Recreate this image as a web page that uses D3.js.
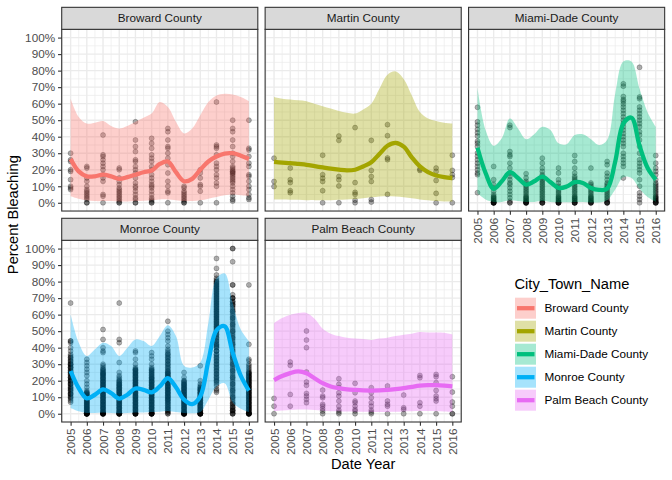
<!DOCTYPE html>
<html><head><meta charset="utf-8">
<script src="https://cdn.jsdelivr.net/npm/d3@7"></script>
<style>
body{margin:0;background:#fff}
svg{display:block}
text{font-family:"Liberation Sans",Arial,Helvetica,sans-serif}
</style>
</head><body>
<svg id="chart" width="672" height="480"></svg>
<script>
// ---------------- DATA ----------------
const counties = ["Broward County","Martin County","Miami-Dade County","Monroe County","Palm Beach County"];
const countyColors = ["#F8766D","#A3A500","#00BF7D","#00B0F6","#E76BF3"];
const years = [2005,2006,2007,2008,2009,2010,2011,2012,2013,2014,2015,2016];
const yTicks = [0,0.1,0.2,0.3,0.4,0.5,0.6,0.7,0.8,0.9,1];
const fitYears = [2005,2005.5,2006,2006.5,2007,2007.5,2008,2008.5,2009,2009.5,2010,2010.5,2011,2011.5,2012,2012.5,2013,2013.5,2014,2014.5,2015,2015.5,2016];

// observed percent bleaching (percent), one list per year 2005..2016
const browardPoints = [
  [30,26,25,20,19,14,10,9,8],
  [22,21,15,13,10,8,7,6,5,4,3,2,0,0],
  [41,29,28,26,24,22,20,17,15,13,5,4,0],
  [21,20,15,13,11,9,8,7,6,5,4,3,2,1,0,0],
  [49,38,34,31,26,25,22,20,18,15,12,10,9,7,5,3,2,0,0],
  [39,36,33,29,27,25,22,20,17,15,13,11,10,9,7,5,3,2,1,0,0],
  [45,43,38,34,33,30,27,23,18,13,10,7,6,0],
  [10,9,7,6,5,4,3,2,1,0,0],
  [20,18,15,11,10,7,0],
  [61,35,34,33,29,24,22,20,17,15,12,10,0],
  [50,45,43,38,34,30,28,25,22,21,20,19,19,18,18,17,16,15,14,13,12,10,8,6,4,2,1],
  [50,33,32,28,24,22,17,16,13,10,8,5,3,2]
];
const martinPoints = [
  [27,12.9,9.8],
  [21,13.9,12.2,7.3,6.1],
  [],
  [28.8,17,14.9,12.9,7.3,0],
  [40.4,37.8,15.9,13.9,10.2,0],
  [45.5,12.2,6.3,5.1,1.6,0],
  [37.8,19.6,15.9,12.9,2,0.4],
  [47.3,40.6,27.1,26.1,5.1],
  [],
  [20.4,19.6],
  [21,19,13.5,5.7,0],
  [28.8,19.6,17,15.3,0]
];
const miamiPoints = [
  [57.8,49,47,44.5,42.4,40.4,37.3,36,34,30.2,28.2,26,24,22,20,18,17,6.1],
  [22,14,11,9,7,5,4,3.5,3,2.5,2,1.5,1,0.5,0,0,0,0,0,0],
  [47,45.5,31,29,28,24,21,18,16,14,12,11,9,7,5,3,1,0,0],
  [17.6,15,13,12,11,10,9,8,7,6,5,4,3.5,3,2.5,2,1.5,1,0.5,0,0,0,0,0],
  [27,24,21,19,17,16,15,14,13,12,11,10,9,8,7,6,5,4,3,2,1,0,0,0,0],
  [21,18,14,12,10,9,8,7,6,5,4,3.5,3,2.5,2,1.5,1,0.5,0,0,0,0,0],
  [28.6,25,21,18,16,15,14,13,12,11,10,9,8,7,6,5,4,3.5,3,2.5,2,1.5,1,0,0,0,0,0],
  [21,12,11,10,9,8,7,6,5,4,3.5,3,2.5,2,1.5,1,0.5,0,0,0,0],
  [25,23,18,16,14,12,11,10,9,8,7,6,5,4,3,2,1,0,0,0,0],
  [72,70.6,64.3,62.5,61.5,59.8,58,56,54,52,50,48,46,44,42,40,38,36,34,30,28,26,24,22,15],
  [82,64,63,58,56,54,52,50,48,46,43,41,38,34,30,26,24,22,20,18,14,10,6,4,2,0],
  [28.6,24,21,19,17,14,12,11,10,9,8,7,6,5,4,3.5,3,2.5,2,1.5,1,0.5,0,0,0,0]
];
const monroePoints = [
  [67,44,44,43,40,38,36,35,34,33,32,31,30,30,29,28,28,27,26,25,25,24,23,22,22,21,20,20,19,18,18,17,16,15,15,14,13,12,12,11,10,9,8,7],
  [33,31,29,27,25,23,20,18,16,14,13,12.5,12,11.5,11,10.5,10,9.5,9,8.5,8,7.5,7,6.5,6,5.5,5,4.5,4,3.5,3,2.5,2,1.5,1,0.5,0,0,0,0,0,0],
  [51,45,40,38,37,30,29,28,27,26,25,24.5,24,23.5,23,22,21.5,21,20,19.5,19,18,17.5,17,16,15.5,15,14,13.5,13,12,11.5,11,10,9.5,9,8,7.5,7,6,5.5,5,4,3.5,3,2,1.5,1,0.5,0,0,0,0,0],
  [67,45,43,31,25,23,22,21,20,19,18,17.5,17,16,15.5,15,14,13.5,13,12,11.5,11,10,9.5,9,8,7.5,7,6,5.5,5,4,3.5,3,2,1.5,1,0.5,0,0,0,0,0],
  [38,37,33,30,28,27,26.5,26,25,24.5,24,23,22.5,22,21,20.5,20,19,18.5,18,17,16.5,16,15,14.5,14,13,12.5,12,11,10.5,10,9,8.5,8,7,6.5,6,5,4.5,4,3,2.5,2,1,0.5,0,0,0,0],
  [37,35,33,30,28,27,26,25,24,23,22,21.5,21,20,19.5,19,18,17.5,17,16,15.5,15,14,13.5,13,12,11.5,11,10,9.5,9,8,7.5,7,6,5.5,5,4,3.5,3,2,1.5,1,0.5,0,0,0,0,0],
  [56,50,48,46,44,41,39,38,37,36,35,34,33,32,31,30,29,28,27,26,25,24.5,24,23,22.5,22,21,20.5,20,19,18.5,18,17,16.5,16,15,14.5,14,13,12.5,12,11,10.5,10,9,8.5,8,7,6,5,4,3,2,1,0],
  [25,22,20,19,18,17.5,17,16,15.5,15,14,13.5,13,12,11.5,11,10,9.5,9,8,7.5,7,6,5.5,5,4,3.5,3,2,1.5,1,0.5,0,0,0,0,0,0],
  [29,20,18,17,16,15,14.5,14,13,12.5,12,11,10.5,10,9,8.5,8,7,6.5,6,5,4.5,4,3,2.5,2,1,0.5,0,0,0,0,0],
  [94,88,84,82,81,80,79,79,78,77,77,76,75,75,74,73,73,72,71,71,70,69,69,68,67,67,66,65,65,64,63,63,62,61,61,60,59,59,58,57,57,56,55,55,54,53,53,52,51,51,50,49,48,47,46,45,44,43,42,41,41,40,38,38,36,35,34,33,32,31,30,29,28,27,26,25,24,23,22,21,20,19,18,17,15,14,13],
  [100,100,92,78,78,72,70,70,68,67,66,65,63,62,61,59,58,57,55,54,53,51,50,49,47,46,45,43,42,41,39,38,37,35,34,33,31,30,29,27,26,25,23,22,21,19,18,17,15,14,13,11,10,9,7,6,5,4,3,2,2,1,0,0],
  [78,42,33,32,30,29,28,27,26,25,24.5,24,23,22.5,22,21,20.5,20,19,18.5,18,17,16.5,16,15,14.5,14,13,12.5,12,11,10.5,10,9,8.5,8,7,6.5,6,5,4.5,4,3,2.5,2,1,0.5,0,0,0,0,0]
];
// further Monroe survey sites packed in the dark part of each column
const monroeMorePoints = [
  [34,32,30,28,26,24,22,20,18,16,14,12,10],
  [13,12,11,10,9,8,7,6,5,4,3,2,1,0,0,0],
  [27,26,25,24,23,22,21,20,19,18,17,16,15,14,13,12,11,10,9,8,7,6,5,4,3,2,1,0,0],
  [20,19,18,17,16,15,14,13,12,11,10,9,8,7,6,5,4,3,2,1,0,0],
  [27,26,25,24,23,22,21,20,19,18,17,16,15,14,13,12,11,10,9,8,7,6,5,4,3,2,1,0,0],
  [27,26,25,24,23,22,21,20,19,18,17,16,15,14,13,12,11,10,9,8,7,6,5,4,3,2,1,0,0],
  [36,34,32,30,28,26,25,24,23,22,21,20,19,18,17,16,15,14,13,12,11,10,9,8,7,6,5,4,3,2,1,0],
  [20,19,18,17,16,15,14,13,12,11,10,9,8,7,6,5,4,3,2,1,0,0],
  [16,15,14,13,12,11,10,9,8,7,6,5,4,3,2,1,0,0],
  [80,78,76,74,72,70,68,66,64,62,60,58,56,54,52,50,48,46,44,42,40,38,36,34,32,30,28,26,24,22,20],
  [70,68,66,64,62,60,58,56,54,52,50,48,46,44,42,40,38,36,34,32,30,28,26,24,22,20,18,16,14,12,10,8,6,4,2,0],
  [25,24,23,22,21,20,19,18,17,16,15,14,13,12,11,10,9,8,7,6,5,4,3,2,1,0,0]
];
const palmPoints = [
  [9.3,4.6,0],
  [31.3,29.3,11.7,4.6],
  [50.1,44.6,40,25.3,19.2,17.2,12.3,10.7,8.7,6.7],
  [14.3,10.7,9.7,5.7,4.6,3,1.6,0],
  [21.2,17.8,15.8,12.7,10.7,7.7,4.6,2.2,1,0],
  [18.4,12.7,7.7,6.7,4.6,2.6,1.6,0],
  [15.8,12.7,9.7,6.7,4.6,2.2,1,0],
  [16.8,7.7,5.7,4.6,0],
  [11.3,3.6,2.6,0],
  [23.2,21.8,6.7,4.6,0],
  [23.8,22.4,18.8,14.1,10.7,9.1,7.7,0],
  [22.4,13.1,7.1,4.6,0,0]
];

// loess fit and confidence band (percent) at fitYears
const browardFit   = [26.5,19,16,16,17,16,14.5,15.5,17,18.5,19.5,23.5,25,18.5,13,14.5,20,25,28,29.8,30,28.5,26.5];
const browardLower = [4,2.5,1.5,1,1,1,0.8,0.8,1,1.2,1.5,2,2,1.5,1,1,1.5,2.5,3.5,4.5,5,4.5,4];
const browardUpper = [63,52,48,48.5,49.5,46.5,45,46.5,49,51.5,54,61,58,49,42,45,53,61,65,66,65.5,64,61.5];

const martinFit   = [24.7,24.3,24,23.5,23,22.2,21.4,20.6,20,19.6,20,22,24.5,29.5,34.5,36.3,34,27.5,22,18.5,16.5,15.5,15];
const martinLower = [2,2,1.9,1.8,1.6,1.6,1.5,1.6,1.8,2,2.3,2.8,3.3,3.8,4,3.8,3.3,2.7,2,1.5,1,0.7,0.5];
const martinUpper = [64,63,62.5,62,61.5,60,58.5,57,55.5,54.5,54,56.5,60,69,77.5,79.5,75,65,55,51,49.5,48.5,48];

const miamiFit   = [33.3,18,8.5,13,18.5,15,11,13,15.8,12.5,9,9.8,12.5,12,9,7.8,8.5,25,48,51.5,34.5,21,14];
const miamiLower = [5.7,2,0.5,0.5,1.5,1,0.5,0.5,1,0.5,0.3,0.3,0.5,0.5,0.2,0.2,1.5,8,15.5,15,8.5,3.5,0.6];
const miamiUpper = [69.5,44,34.5,39,51,45,38.5,41.5,46,44,36,35.5,41,41.5,38.5,35,38,66,85.5,85.5,69,54.7,46];

const monroeFit   = [25.9,15.5,9.3,11.5,14.7,12.5,9.2,11.5,15.3,14.5,13,16.5,21.5,16,8.5,5.8,10.5,32,50.5,53,37,23,14];
const monroeLower = [3.5,1.5,0.5,0.5,0.8,0.5,0.3,0.5,0.8,0.8,1,1.2,1.6,1,0.5,0.3,1,8.5,16.5,18.5,7,3,1];
const monroeUpper = [60.2,43,35,39,43,41,35,40,45,44,41,47,53.5,47,29,28,31,55,82,85,67,51,44];

const palmFit   = [20.4,22.8,24.6,25.6,24.5,21.5,18.5,16.5,15.5,14.8,14.4,14.1,14,14.1,14.4,14.9,15.5,16.3,17,17.3,17.3,17,16.5];
const palmLower = [1.6,2,2.3,2.5,2.5,2.2,1.8,1.5,1.5,1.3,1.2,1.2,1.1,1.1,1.1,1.2,1.4,1.5,1.6,1.6,1.5,1.4,1.2];
const palmUpper = [55,58,60,61,61,57.5,51.5,48.5,47,46,45.5,45.3,44.7,45.5,46,47,47.8,48.5,49.5,49.2,49.2,49,48];

const pointSets = [[browardPoints], [martinPoints], [miamiPoints], [monroePoints, monroeMorePoints], [palmPoints]];
const fitSets   = [browardFit, martinFit, miamiFit, monroeFit, palmFit];
const lowerSets = [browardLower, martinLower, miamiLower, monroeLower, palmLower];
const upperSets = [browardUpper, martinUpper, miamiUpper, monroeUpper, palmUpper];

// ---------------- LAYOUT ----------------
const svg = d3.select("#chart");
const FONT = '"Liberation Sans",Arial,Helvetica,sans-serif';
const panelX0 = 61.7, panelW = 196.1, gapX = 7.33;
const stripH = 22, panelH = 181.7;
const rowTops = [7.33, 218.3];

const x = d3.scaleLinear().domain([2004.45, 2016.55]).range([0, panelW]);
const y = d3.scaleLinear().domain([-0.05, 1.05]).range([panelH, 0]);

const majorX = years;
const minorX = d3.range(2004.5, 2017, 1);
const majorY = yTicks;
const minorY = d3.range(0.05, 1.0, 0.1);

svg.append("rect").attr("width",672).attr("height",480).attr("fill","#fff");

counties.forEach((name, i) => {
  const col = i % 3, row = Math.floor(i / 3);
  const px = panelX0 + col * (panelW + gapX);
  const sy = rowTops[row];
  const py = sy + stripH;
  const g = svg.append("g").attr("transform", `translate(${px},${py})`);
  const color = countyColors[i];

  // grid
  g.append("rect").attr("width", panelW).attr("height", panelH).attr("fill", "#fff");
  g.selectAll(".mx").data(minorX).join("line")
    .attr("x1", d => x(d)).attr("x2", d => x(d)).attr("y1", 0).attr("y2", panelH)
    .attr("stroke", "#EBEBEB").attr("stroke-width", 0.7);
  g.selectAll(".my").data(minorY).join("line")
    .attr("y1", d => y(d)).attr("y2", d => y(d)).attr("x1", 0).attr("x2", panelW)
    .attr("stroke", "#EBEBEB").attr("stroke-width", 0.7);
  g.selectAll(".Mx").data(majorX).join("line")
    .attr("x1", d => x(d)).attr("x2", d => x(d)).attr("y1", 0).attr("y2", panelH)
    .attr("stroke", "#EBEBEB").attr("stroke-width", 1.4);
  g.selectAll(".My").data(majorY).join("line")
    .attr("y1", d => y(d)).attr("y2", d => y(d)).attr("x1", 0).attr("x2", panelW)
    .attr("stroke", "#EBEBEB").attr("stroke-width", 1.4);

  // points
  const pts = [];
  pointSets[i].forEach(set => set.forEach((vals, k) => vals.forEach(v => pts.push({yr: years[k], v: v / 100}))));
  g.selectAll(".pt").data(pts).join("circle")
    .attr("cx", d => x(d.yr)).attr("cy", d => y(d.v)).attr("r", 2.5)
    .attr("fill", "#000").attr("fill-opacity", 0.3)
    .attr("stroke", "#000").attr("stroke-opacity", 0.3).attr("stroke-width", 0.8);

  // ribbon + fit
  const band = fitYears.map((yr, k) => ({yr, lo: lowerSets[i][k] / 100, hi: upperSets[i][k] / 100, f: fitSets[i][k] / 100}));
  g.append("path").datum(band)
    .attr("d", d3.area().x(d => x(d.yr)).y0(d => y(d.lo)).y1(d => y(d.hi)).curve(d3.curveCatmullRom.alpha(0.5)))
    .attr("fill", color).attr("fill-opacity", 0.35);
  g.append("path").datum(band)
    .attr("d", d3.line().x(d => x(d.yr)).y(d => y(d.f)).curve(d3.curveCatmullRom.alpha(0.5)))
    .attr("fill", "none").attr("stroke", color).attr("stroke-width", 4.3).attr("stroke-linecap", "butt");

  // border
  g.append("rect").attr("width", panelW).attr("height", panelH)
    .attr("fill", "none").attr("stroke", "#333333").attr("stroke-width", 1.1);

  // strip
  const s = svg.append("g").attr("transform", `translate(${px},${sy})`);
  s.append("rect").attr("width", panelW).attr("height", stripH)
    .attr("fill", "#D9D9D9").attr("stroke", "#333333").attr("stroke-width", 1.1);
  s.append("text").attr("x", panelW / 2).attr("y", stripH / 2).attr("dy", "0.35em")
    .attr("text-anchor", "middle").attr("fill", "#1A1A1A").style("font-size", "11.73px").text(name);

  // y axis on first column
  if (col === 0) {
    const ax = g.append("g").call(d3.axisLeft(y).tickValues(yTicks).tickFormat(d3.format(".0%")).tickSize(3.67).tickPadding(2.93));
    ax.select(".domain").remove();
    ax.selectAll("line").attr("stroke", "#333333").attr("stroke-width", 1.1);
    ax.selectAll("text").attr("fill", "#4D4D4D").style("font-size", "11.73px").style("font-family", FONT);
  }
  // x axis on panels with nothing below
  if (row === 1 || i === 2) {
    const ax = g.append("g").attr("transform", `translate(0,${panelH})`)
      .call(d3.axisBottom(x).tickValues(years).tickFormat(d3.format("d")).tickSize(3.67));
    ax.select(".domain").remove();
    ax.selectAll("line").attr("stroke", "#333333").attr("stroke-width", 1.1);
    ax.selectAll("text").attr("fill", "#4D4D4D").style("font-size", "11.73px").style("font-family", FONT)
      .attr("y", 0).attr("x", -(3.67 + 2.93)).attr("dy", "0.35em")
      .attr("transform", "rotate(-90)").style("text-anchor", "end");
  }
});

// axis titles
svg.append("text").attr("x", panelX0 + (3 * panelW + 2 * gapX) / 2).attr("y", 469)
  .attr("text-anchor", "middle").attr("fill", "#000").style("font-size", "14.67px").text("Date Year");
svg.append("text").attr("transform", `translate(18,${(rowTops[0] + rowTops[1] + stripH + panelH) / 2}) rotate(-90)`)
  .attr("text-anchor", "middle").attr("fill", "#000").style("font-size", "14.67px").text("Percent Bleaching");

// legend
const lg = svg.append("g").attr("transform", "translate(514.5,0)");
lg.append("text").attr("x", 0).attr("y", 289).attr("fill", "#000").style("font-size", "14.67px").text("City_Town_Name");
counties.forEach((name, i) => {
  const ky = 297.7 + i * 23;
  lg.append("rect").attr("x", 0.5).attr("y", ky).attr("width", 21).attr("height", 21)
    .attr("fill", countyColors[i]).attr("fill-opacity", 0.35);
  lg.append("line").attr("x1", 2.5).attr("x2", 20).attr("y1", ky + 10.5).attr("y2", ky + 10.5)
    .attr("stroke", countyColors[i]).attr("stroke-width", 4.3);
  lg.append("text").attr("x", 30).attr("y", ky + 10.5).attr("dy", "0.35em")
    .attr("fill", "#000").style("font-size", "11.73px").text(name);
});
</script>
</body></html>
